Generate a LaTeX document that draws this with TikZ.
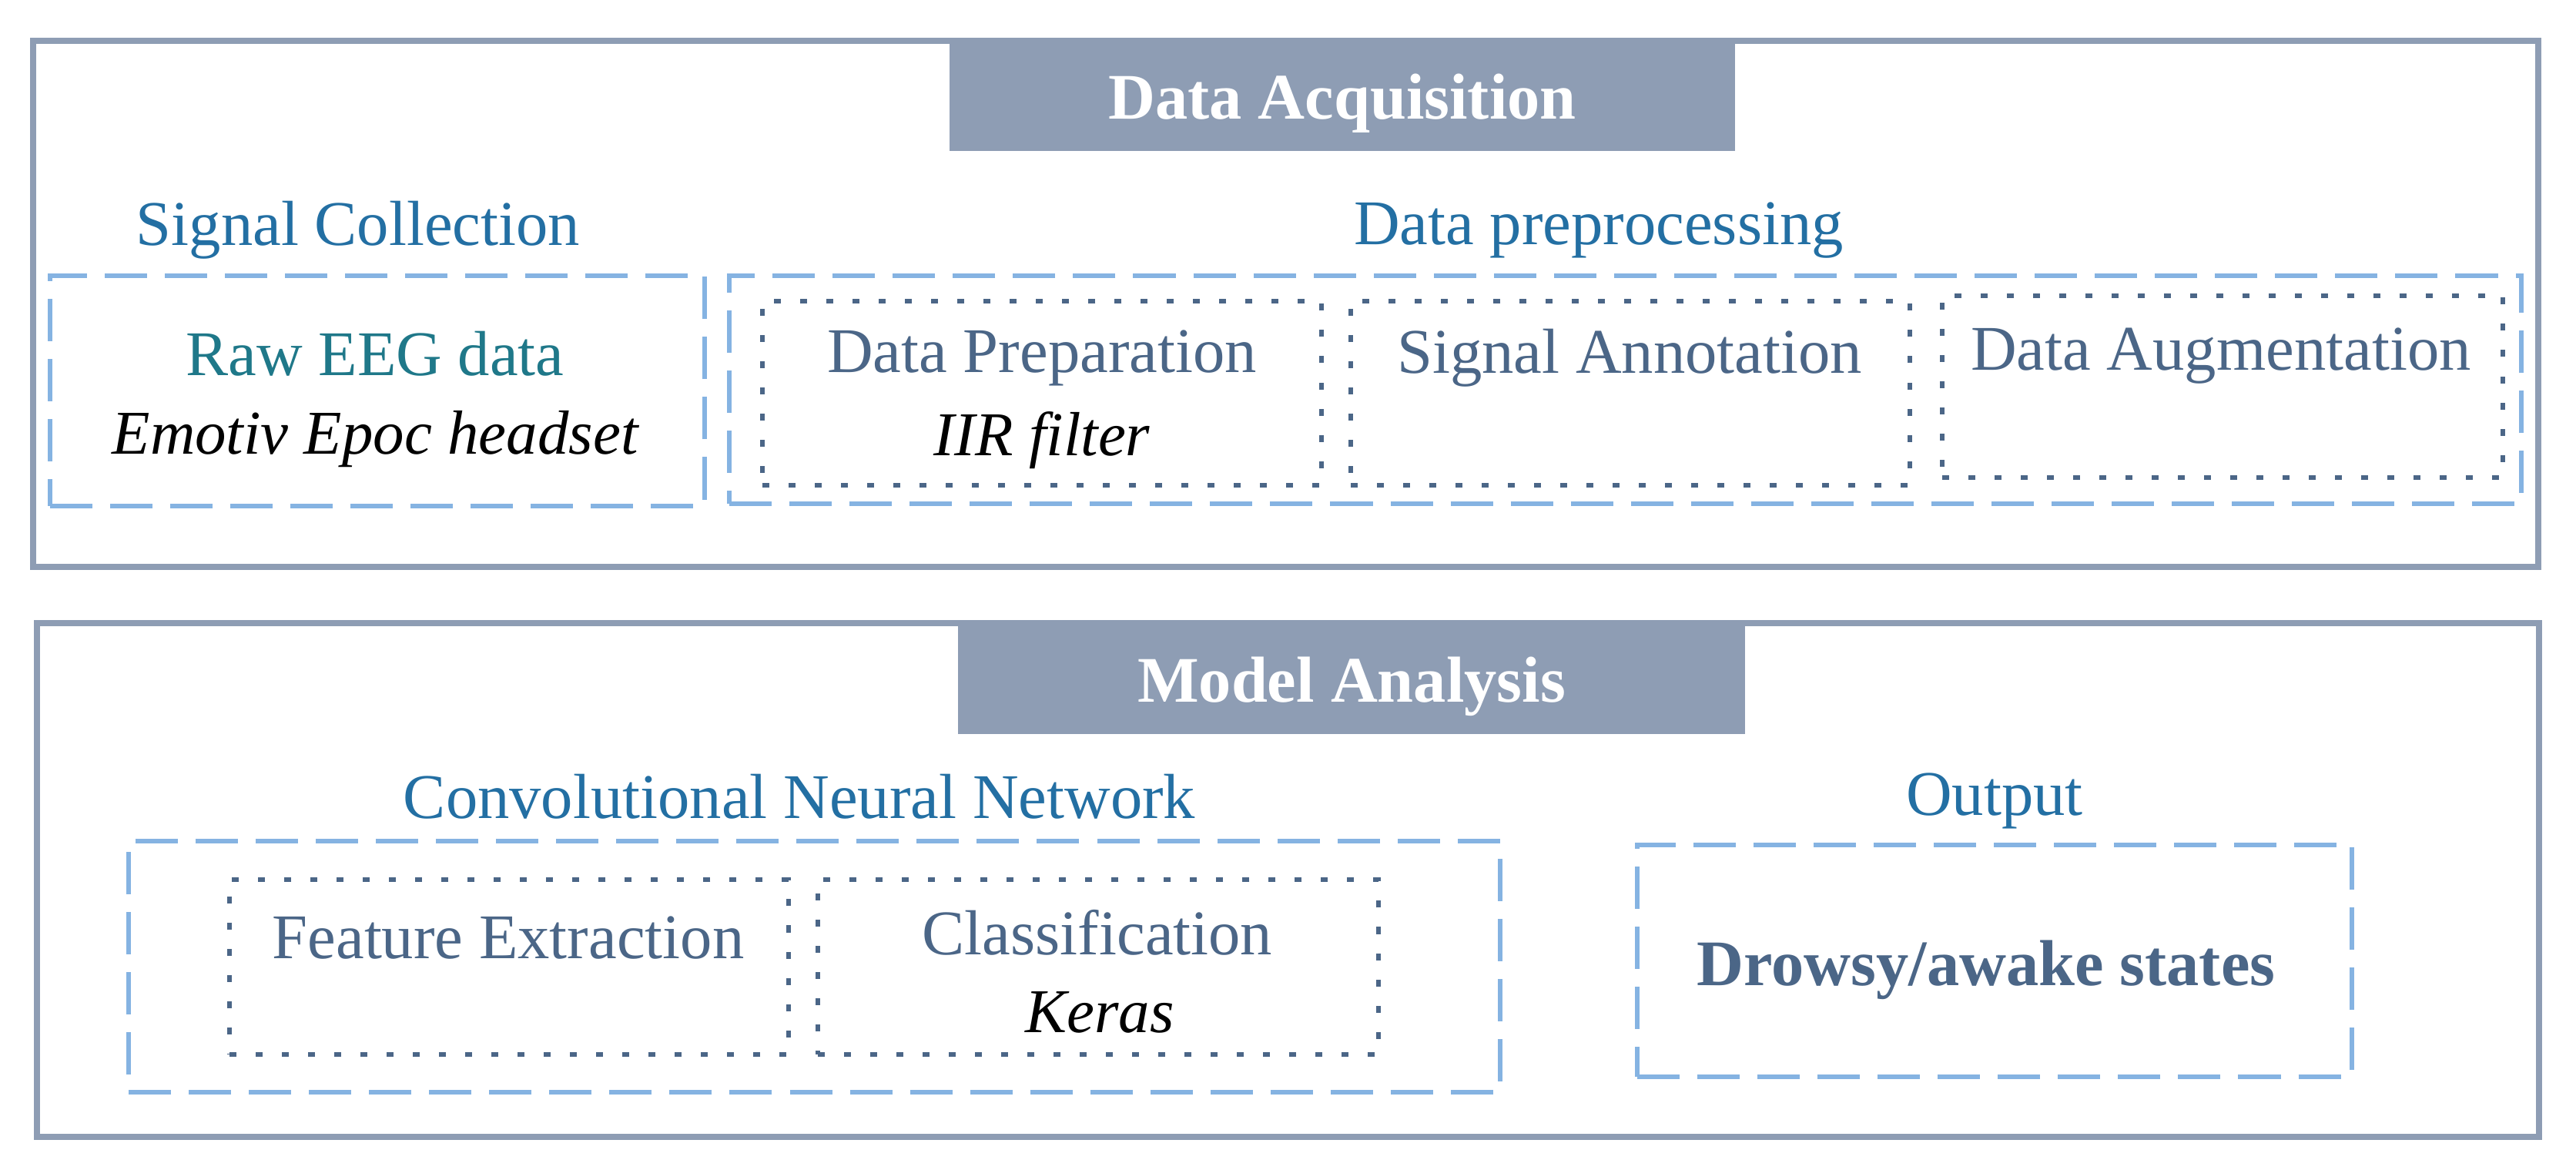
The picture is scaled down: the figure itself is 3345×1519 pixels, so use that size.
\documentclass[tikz,border=0pt]{standalone}
\usepackage{fontspec}
\setmainfont{Liberation Serif}
\usepackage{tikz}
\usetikzlibrary{fit}

\definecolor{framegray}{HTML}{8E9DB4}
\definecolor{dashblue}{HTML}{85B3E2}
\definecolor{dotslate}{HTML}{4B6687}
\definecolor{headblue}{HTML}{236FA3}
\definecolor{eegteal}{HTML}{1F7889}

\begin{document}
\begin{tikzpicture}[x=0.01cm, y=-0.01cm,
  framebox/.style={draw=framegray, line width=2.2pt, inner sep=0pt},
  titlebar/.style={fill=framegray, inner sep=0pt, text=white, font=\fontsize{24}{28}\selectfont\bfseries},
  dashbox/.style={draw=dashblue, line width=1.6pt, dash pattern=on 0.55cm off 0.23cm, inner sep=0pt},
  dotbox/.style={draw=dotslate, line width=1.6pt, dash pattern=on 0.09cm off 0.25cm, inner sep=0pt},
  head/.style={text=headblue, font=\fontsize{23.5}{28}\selectfont},
  item/.style={text=dotslate, font=\fontsize{23.5}{28}\selectfont},
  tool/.style={text=black, font=\fontsize{23}{28}\selectfont\itshape}]
  \useasboundingbox (0,0) rectangle (3345,1519);

  % data acquisition
  \node[framebox, fit={(43,53) (3296,736)}] (acq) {};
  \node[titlebar, fit={(1233,53) (2253,196)}] (acqbar) {};
  \node[titlebar] (acqtitle) at ([yshift=-0.1cm]acqbar.center) {Data Acquisition};

  \node[head] (sighead) at (465,299) {Signal Collection};
  \node[dashbox, fit={(65,358) (915,657)}] (sigbox) {};
  \node[head, text=eegteal] (raw) at (487,459) {Raw EEG data};
  \node[tool] (emotiv) at (487,570) {Emotiv Epoc headset};

  \node[head] (prehead) at (2076,299) {Data preprocessing};
  \node[dashbox, fit={(947,358) (3274,654)}] (prebox) {};
  \node[dotbox, fit={(990,391) (1716,630)}] (prepbox) {};
  \node[dotbox, fit={(1754,391) (2480,630)}] (annbox) {};
  \node[dotbox, fit={(2522,384) (3250,620)}] (augbox) {};
  \node[item] (prep) at (1353,465) {Data Preparation};
  \node[tool] (iir) at (1353,572) {IIR filter};
  \node[item] (ann) at (2116,465) {Signal Annotation};
  \node[item] (aug) at (2884,462) {Data Augmentation};

  % model analysis
  \node[framebox, fit={(48,809) (3297,1476)}] (model) {};
  \node[titlebar, fit={(1244,809) (2266,953)}] (modelbar) {};
  \node[titlebar] (modeltitle) at ([yshift=-0.1cm]modelbar.center) {Model Analysis};

  \node[head] (cnnhead) at (1038,1034) {Convolutional Neural Network};
  \node[dashbox, fit={(167,1092) (1948,1418)}] (cnnbox) {};
  \node[dotbox, fit={(298,1142) (1024,1369)}] (featbox) {};
  \node[dotbox, fit={(1062,1142) (1790,1369)}] (clsbox) {};
  \node[item] (feat) at (660,1218) {Feature Extraction};
  \node[item] (cls) at (1425,1211) {Classification};
  \node[tool] (keras) at (1428,1314) {Keras};

  \node[head] (outhead) at (2590,1040) {Output};
  \node[dashbox, fit={(2126,1097) (3054,1398)}] (outbox) {};
  \node[item, font=\fontsize{24}{28}\selectfont\bfseries] (state) at (2579,1259) {Drowsy/awake states};
\end{tikzpicture}
\end{document}
